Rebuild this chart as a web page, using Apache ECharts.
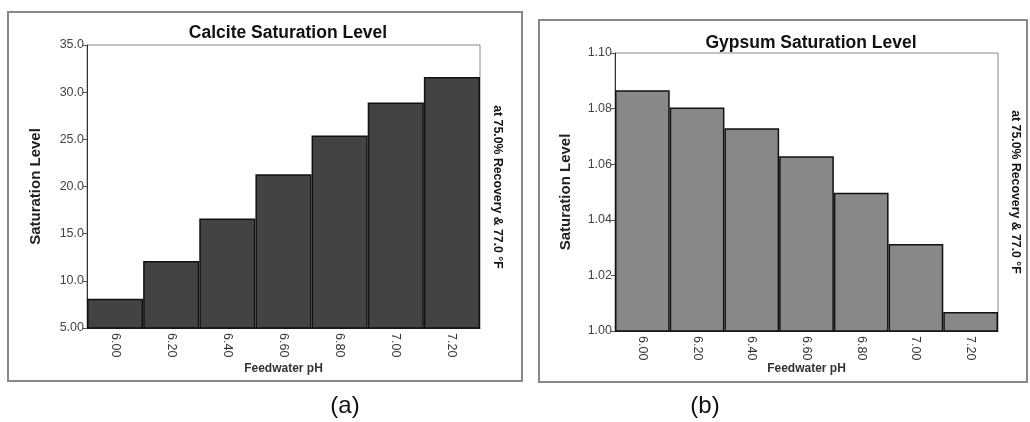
<!DOCTYPE html>
<html><head><meta charset="utf-8">
<script src="https://cdn.jsdelivr.net/npm/echarts@6/dist/echarts.min.js"></script>
<style>html,body{margin:0;padding:0;background:#fff}#c{width:1030px;height:422px}</style>
</head><body><div id="c"></div>
<script>
const categories = ['6.00','6.20','6.40','6.60','6.80','7.00','7.20'];
const calciteValues = [8.1, 12.1, 16.6, 21.3, 25.4, 28.9, 31.6];
const gypsumValues = [1.0866, 1.0804, 1.0729, 1.0629, 1.0497, 1.0313, 1.0068];
const calciteTicks = {min: 5, max: 35, interval: 5};
const gypsumTicks = {min: 1.00, max: 1.10, interval: 0.02};

const F = 'Liberation Sans, Arial, sans-serif';
const chart = echarts.init(document.getElementById('c'), null, {renderer: 'canvas'});

function xAxis(i) {
  return {
    type: 'category', gridIndex: i, data: categories,
    name: 'Feedwater pH', nameLocation: 'middle', nameGap: i === 0 ? 35 : 32,
    nameMoveOverlap: false,
    nameTextStyle: {fontFamily: F, fontWeight: 'bold', fontSize: 12, color: '#333'},
    axisLine: {lineStyle: {color: '#333', width: 1}},
    axisTick: {show: false},
    axisLabel: {rotate: -90, fontFamily: F, fontSize: 12.5, color: '#333', margin: 5},
    splitLine: {show: false}
  };
}
function yAxis(i, t, fmt) {
  return {
    type: 'value', gridIndex: i, min: t.min, max: t.max, interval: t.interval,
    name: 'Saturation Level', nameLocation: 'middle', nameGap: i === 0 ? 44 : 42,
    nameTextStyle: {fontFamily: F, fontWeight: 'bold', fontSize: 15, color: '#222'},
    axisLine: {show: true, lineStyle: {color: '#333', width: 1}},
    axisTick: {show: true, length: 4, lineStyle: {color: '#555'}},
    axisLabel: {fontFamily: F, fontSize: 12.5, color: '#444', margin: 3, formatter: fmt},
    splitLine: {show: false}
  };
}

chart.setOption({
  animation: false,
  backgroundColor: '#fff',
  title: [
    {text: 'Calcite Saturation Level', left: 283, top: 19, textAlign: 'center',
     textStyle: {fontFamily: F, fontWeight: 'bold', fontSize: 17.5, color: '#111'}},
    {text: 'Gypsum Saturation Level', left: 806, top: 29, textAlign: 'center',
     textStyle: {fontFamily: F, fontWeight: 'bold', fontSize: 17.5, color: '#111'}}
  ],
  grid: [
    {left: 87, right: 550, top: 45, bottom: 94, show: true, borderColor: '#888', borderWidth: 1},
    {left: 615, right: 32, top: 53, bottom: 91, show: true, borderColor: '#888', borderWidth: 1}
  ],
  xAxis: [xAxis(0), xAxis(1)],
  yAxis: [
    yAxis(0, calciteTicks, v => Number(v).toPrecision(3)),
    yAxis(1, gypsumTicks, v => Number(v).toFixed(2))
  ],
  series: [
    {type: 'bar', xAxisIndex: 0, yAxisIndex: 0, data: calciteValues, barCategoryGap: '0%',
     itemStyle: {color: '#434343', borderColor: '#111', borderWidth: 1.5}},
    {type: 'bar', xAxisIndex: 1, yAxisIndex: 1, data: gypsumValues, barCategoryGap: '0%',
     itemStyle: {color: '#888888', borderColor: '#111', borderWidth: 1.5}}
  ],
  graphic: [
    {type: 'rect', shape: {x: 8, y: 12, width: 514, height: 369}, style: {fill: 'none', stroke: '#888', lineWidth: 2}, silent: true},
    {type: 'rect', shape: {x: 539, y: 20, width: 488, height: 362}, style: {fill: 'none', stroke: '#888', lineWidth: 2}, silent: true},
    {type: 'text', x: 497, y: 187, rotation: -Math.PI / 2,
     style: {text: 'at 75.0% Recovery & 77.0 °F', fontFamily: F, fontWeight: 'bold', fontSize: 12.3, fill: '#111', align: 'center', verticalAlign: 'middle'}},
    {type: 'text', x: 1015, y: 192, rotation: -Math.PI / 2,
     style: {text: 'at 75.0% Recovery & 77.0 °F', fontFamily: F, fontWeight: 'bold', fontSize: 12.3, fill: '#111', align: 'center', verticalAlign: 'middle'}},
    {type: 'text', x: 345, y: 406,
     style: {text: '(a)', fontFamily: F, fontSize: 24, fill: '#111', align: 'center', verticalAlign: 'middle'}},
    {type: 'text', x: 705, y: 406,
     style: {text: '(b)', fontFamily: F, fontSize: 24, fill: '#111', align: 'center', verticalAlign: 'middle'}}
  ]
});
</script></body></html>
